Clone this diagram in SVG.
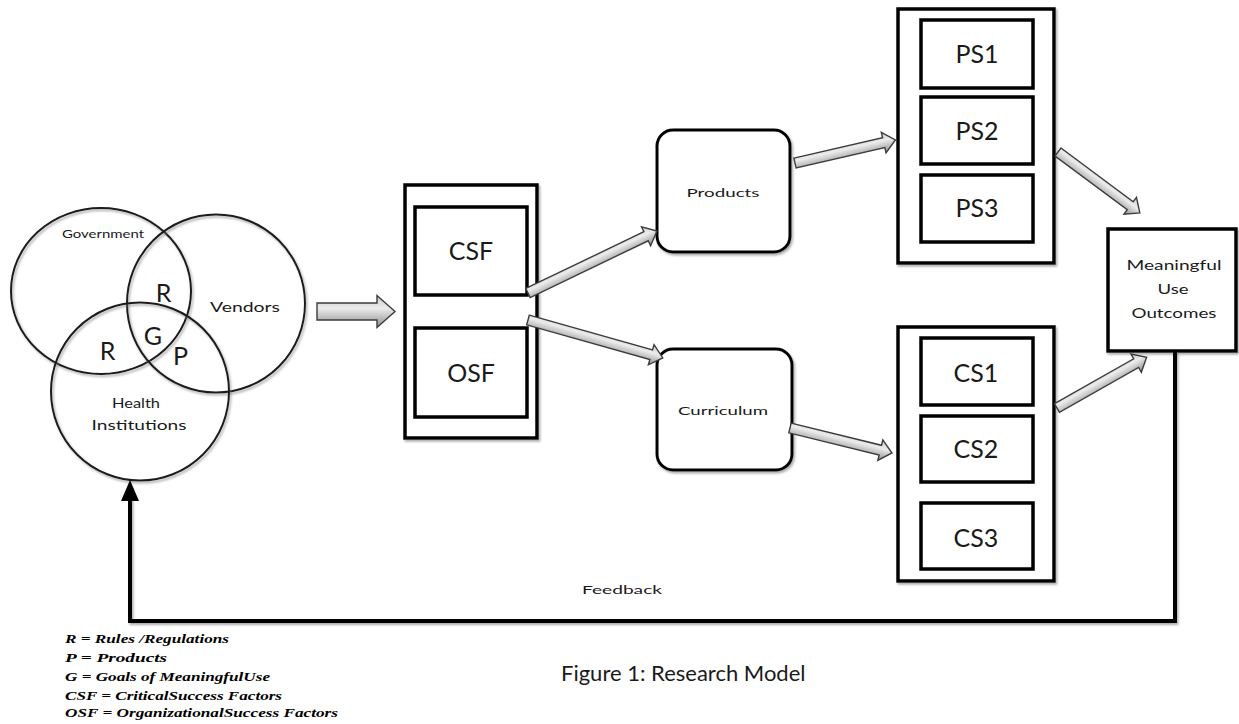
<svg xmlns="http://www.w3.org/2000/svg" width="1239" height="724" viewBox="0 0 1239 724">
  <defs>
    <linearGradient id="arrowFill" x1="0" y1="0" x2="0" y2="1">
      <stop offset="0" stop-color="#c8c8c8"/>
      <stop offset="0.4" stop-color="#ececec"/>
      <stop offset="1" stop-color="#8c8c8c"/>
    </linearGradient>
    <filter id="shadow" x="-10%" y="-10%" width="130%" height="130%">
      <feDropShadow dx="1.5" dy="2" stdDeviation="1" flood-color="#777" flood-opacity="0.6"/>
    </filter>
  </defs>
  <style>
    .bg { fill: #ffffff; }
    .venn { fill: none; stroke: #1a1a1a; stroke-width: 2; }
    .frame { fill: #ffffff; stroke: #000; stroke-width: 3.5; }
    .inner { fill: #ffffff; stroke: #000; stroke-width: 3.5; }
    .rounded { fill: #ffffff; stroke: #000; stroke-width: 3; }
    .block { fill: url(#arrowFill); stroke: #3c3c3c; stroke-width: 1.4; stroke-linejoin: miter; }
    .feedback { fill: none; stroke: #000; stroke-width: 4; }
    .head { fill: #000; }
    text { font-family: Lato, "Open Sans", "Liberation Sans", sans-serif; fill: #1a1a1a; text-anchor: middle; }
    .small { font-size: 12px; }
    .mid { font-size: 14px; }
    .big { font-size: 25px; }
    .venn-letter { font-size: 25px; }
    .legend { font-family: "Liberation Serif", "DejaVu Serif", serif; font-weight: bold; font-style: italic; font-size: 13px; text-anchor: start; fill: #000; }
    .caption { font-size: 22px; text-anchor: start; }
  </style>

  <rect class="bg" x="0" y="0" width="1239" height="724"/>

  <!-- Stakeholder Venn diagram -->
  <g id="venn">
    <ellipse class="venn" cx="101" cy="291" rx="90" ry="83" filter="url(#shadow)"/>
    <circle class="venn" cx="216" cy="303.5" r="89" filter="url(#shadow)"/>
    <circle class="venn" cx="140" cy="391.5" r="89" filter="url(#shadow)"/>
    <text class="small" x="103" y="238" textLength="82" lengthAdjust="spacingAndGlyphs">Government</text>
    <text class="mid" x="245" y="312" textLength="70" lengthAdjust="spacingAndGlyphs">Vendors</text>
    <text class="venn-letter" x="163.5" y="302">R</text>
    <text class="venn-letter" x="153" y="345">G</text>
    <text class="venn-letter" x="107.5" y="360">R</text>
    <text class="venn-letter" x="180.5" y="365">P</text>
    <text class="mid" x="136" y="408" textLength="48" lengthAdjust="spacingAndGlyphs">Health</text>
    <text class="mid" x="139" y="430" textLength="95" lengthAdjust="spacingAndGlyphs">Institutions</text>
  </g>

  <!-- Success factors -->
  <g id="factors">
    <rect class="frame" x="405" y="185" width="132" height="253" filter="url(#shadow)"/>
    <g id="csf">
      <rect class="inner" x="415" y="207" width="112" height="88"/>
      <text class="big" x="471" y="260">CSF</text>
    </g>
    <g id="osf">
      <rect class="inner" x="415" y="328" width="112" height="89"/>
      <text class="big" x="471" y="382">OSF</text>
    </g>
  </g>

  <g id="products">
    <rect class="rounded" x="657" y="130" width="133" height="122" rx="16" filter="url(#shadow)"/>
    <text class="small" x="723" y="197" textLength="73" lengthAdjust="spacingAndGlyphs">Products</text>
  </g>

  <g id="curriculum">
    <rect class="rounded" x="657" y="349" width="135" height="121" rx="16" filter="url(#shadow)"/>
    <text class="small" x="723" y="415" textLength="90" lengthAdjust="spacingAndGlyphs">Curriculum</text>
  </g>

  <!-- Product success measures -->
  <g id="product-measures">
    <rect class="frame" x="898" y="9" width="156" height="254" filter="url(#shadow)"/>
    <g id="ps1">
      <rect class="inner" x="921" y="20" width="112" height="68"/>
      <text class="big" x="977" y="63">PS1</text>
    </g>
    <g id="ps2">
      <rect class="inner" x="921" y="97" width="112" height="67"/>
      <text class="big" x="977" y="140">PS2</text>
    </g>
    <g id="ps3">
      <rect class="inner" x="921" y="175" width="112" height="67"/>
      <text class="big" x="977" y="217">PS3</text>
    </g>
  </g>

  <!-- Curriculum success measures -->
  <g id="curriculum-measures">
    <rect class="frame" x="898" y="327" width="156" height="254" filter="url(#shadow)"/>
    <g id="cs1">
      <rect class="inner" x="921" y="338" width="112" height="67"/>
      <text class="big" x="976" y="382">CS1</text>
    </g>
    <g id="cs2">
      <rect class="inner" x="921" y="416" width="112" height="66"/>
      <text class="big" x="976" y="458">CS2</text>
    </g>
    <g id="cs3">
      <rect class="inner" x="921" y="503" width="112" height="66"/>
      <text class="big" x="976" y="547">CS3</text>
    </g>
  </g>

  <g id="outcomes">
    <rect class="frame" x="1108" y="229" width="128" height="122" filter="url(#shadow)"/>
    <text class="mid" x="1174" y="270" textLength="95" lengthAdjust="spacingAndGlyphs">Meaningful</text>
    <text class="mid" x="1173" y="294" textLength="31" lengthAdjust="spacingAndGlyphs">Use</text>
    <text class="mid" x="1174" y="318" textLength="85" lengthAdjust="spacingAndGlyphs">Outcomes</text>
  </g>

  <!-- Connectors -->
  <g id="connectors">
    <!-- Venn to success factors -->
    <path class="block" transform="translate(317,311.5)" d="M0,-8.5 L60,-8.5 L60,-16 L78,0 L60,16 L60,8.5 L0,8.5 Z"/>
    <!-- CSF to Products -->
    <path class="block" transform="translate(528,293) rotate(-25.67)" d="M0,-5 L131,-5 L131,-10.5 L143,0 L131,10.5 L131,5 L0,5 Z"/>
    <!-- OSF to Curriculum -->
    <path class="block" transform="translate(528,320) rotate(15.72)" d="M0,-5 L128,-5 L128,-10.5 L140,0 L128,10.5 L128,5 L0,5 Z"/>
    <!-- Products to PS -->
    <path class="block" transform="translate(795,163) rotate(-12.95)" d="M0,-5 L91,-5 L91,-10.5 L103,0 L91,10.5 L91,5 L0,5 Z"/>
    <!-- Curriculum to CS -->
    <path class="block" transform="translate(790,428) rotate(13.77)" d="M0,-5 L93,-5 L93,-10.5 L105,0 L93,10.5 L93,5 L0,5 Z"/>
    <!-- PS to outcomes -->
    <path class="block" transform="translate(1058,152) rotate(36.65)" d="M0,-5 L90,-5 L90,-10.5 L102,0 L90,10.5 L90,5 L0,5 Z"/>
    <!-- CS to outcomes -->
    <path class="block" transform="translate(1057,408) rotate(-29.54)" d="M0,-5 L91,-5 L91,-10.5 L103,0 L91,10.5 L91,5 L0,5 Z"/>
    <!-- Feedback loop -->
    <polyline class="feedback" points="1175,351 1175,621 130,621 130,498" filter="url(#shadow)"/>
    <polygon class="head" points="130,480 121,501 139,501"/>
  </g>

  <text class="small" x="622" y="594" textLength="80" lengthAdjust="spacingAndGlyphs">Feedback</text>

  <text class="caption" x="561" y="681">Figure 1: Research Model</text>

  <g id="legend">
    <text class="legend" x="65" y="643" textLength="164" lengthAdjust="spacingAndGlyphs">R = Rules /Regulations</text>
    <text class="legend" x="65" y="662" textLength="102" lengthAdjust="spacingAndGlyphs">P = Products</text>
    <text class="legend" x="65" y="681" textLength="205" lengthAdjust="spacingAndGlyphs">G = Goals of MeaningfulUse</text>
    <text class="legend" x="65" y="700" textLength="217" lengthAdjust="spacingAndGlyphs">CSF = CriticalSuccess Factors</text>
    <text class="legend" x="65" y="717" textLength="273" lengthAdjust="spacingAndGlyphs">OSF = OrganizationalSuccess Factors</text>
  </g>
</svg>
